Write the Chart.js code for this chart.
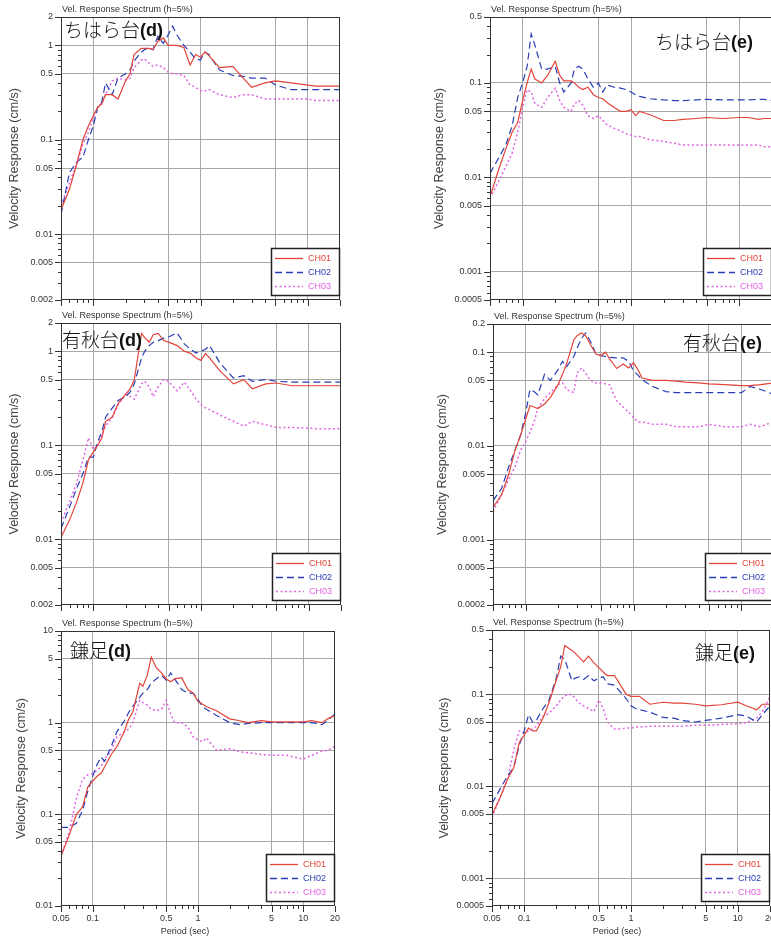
<!DOCTYPE html>
<html>
<head>
<meta charset="utf-8">
<script src="https://cdn.jsdelivr.net/npm/chart.js@4.4.1/dist/chart.umd.min.js"></script>
<style>
  html, body { margin: 0; padding: 0; background: #fff; overflow: hidden; }
  body { width: 771px; height: 937px; position: relative; }
  canvas { position: absolute; }
</style>
</head>
<body>
<canvas id="c0"></canvas>
<canvas id="c1"></canvas>
<canvas id="c2"></canvas>
<canvas id="c3"></canvas>
<canvas id="c4"></canvas>
<canvas id="c5"></canvas>
<script>
// Period grid (sec) shared by every curve
const periods = [0.05,0.06,0.07,0.08,0.09,0.1,0.11,0.12,0.13,0.15,0.17,0.2,0.22,0.24,0.28,0.3,0.33,0.36,0.4,0.45,0.5,0.55,0.6,0.7,0.8,0.9,1,1.1,1.2,1.5,2,2.5,3,4,5,7,10,12,15,17,20];

const channelNames = ['CH01', 'CH02', 'CH03'];
const xTickLabels = [0.05, 0.1, 0.5, 1, 5, 10, 20];
const xGridLines = [0.1, 0.5, 1, 5, 10];

// y tick labels per panel
const yLabelsChiharaD = [2, 1, 0.5, 0.1, 0.05, 0.01, 0.005, 0.002];
const yLabelsChiharaE = [0.5, 0.1, 0.05, 0.01, 0.005, 0.001, 0.0005];
const yLabelsAkiD = [2, 1, 0.5, 0.1, 0.05, 0.01, 0.005, 0.002];
const yLabelsAkiE = [0.2, 0.1, 0.05, 0.01, 0.005, 0.001, 0.0005, 0.0002];
const yLabelsKamaD = [10, 5, 1, 0.5, 0.1, 0.05, 0.01];
const yLabelsKamaE = [0.5, 0.1, 0.05, 0.01, 0.005, 0.001, 0.0005];

// ちはら台(d)
const chiharaD_ch1 = [0.018,0.03,0.055,0.1,0.14,0.18,0.22,0.24,0.3,0.3,0.27,0.42,0.5,0.8,0.93,0.93,0.93,0.9,1.1,1.2,1.0,1.0,1.0,0.95,0.62,0.8,0.75,0.85,0.78,0.58,0.6,0.45,0.36,0.4,0.42,0.4,0.38,0.37,0.37,0.37,0.37];
const chiharaD_ch2 = [0.016,0.045,0.058,0.065,0.1,0.14,0.22,0.25,0.4,0.3,0.45,0.5,0.55,0.68,0.85,0.9,0.95,0.9,1.25,1.05,1.3,1.6,1.3,1.0,0.85,0.72,0.7,0.85,0.8,0.55,0.48,0.47,0.45,0.45,0.38,0.34,0.34,0.34,0.34,0.34,0.34];
const chiharaD_ch3 = [0.02,0.035,0.055,0.09,0.12,0.17,0.22,0.25,0.3,0.42,0.45,0.43,0.45,0.58,0.7,0.72,0.65,0.6,0.62,0.58,0.52,0.5,0.5,0.48,0.38,0.36,0.33,0.33,0.34,0.3,0.28,0.3,0.3,0.27,0.27,0.27,0.27,0.26,0.26,0.26,0.26];

// ちはら台(e)
const chiharaE_ch1 = [0.0062,0.012,0.02,0.03,0.038,0.065,0.1,0.14,0.11,0.1,0.12,0.17,0.12,0.105,0.105,0.1,0.09,0.085,0.09,0.075,0.07,0.068,0.062,0.055,0.05,0.05,0.052,0.045,0.05,0.046,0.04,0.04,0.041,0.042,0.043,0.042,0.043,0.043,0.041,0.042,0.042];
const chiharaE_ch2 = [0.011,0.016,0.022,0.035,0.07,0.1,0.15,0.33,0.25,0.14,0.14,0.15,0.1,0.08,0.1,0.14,0.15,0.14,0.11,0.09,0.1,0.08,0.095,0.09,0.088,0.085,0.08,0.075,0.072,0.068,0.066,0.065,0.065,0.066,0.067,0.066,0.066,0.066,0.067,0.067,0.065];
const chiharaE_ch3 = [0.006,0.009,0.013,0.018,0.03,0.055,0.085,0.08,0.06,0.055,0.07,0.088,0.065,0.055,0.05,0.06,0.065,0.058,0.045,0.042,0.045,0.04,0.036,0.033,0.031,0.029,0.028,0.027,0.027,0.025,0.024,0.023,0.022,0.022,0.022,0.022,0.022,0.022,0.022,0.021,0.021];

// 有秋台(d)
const akiD_ch1 = [0.0105,0.016,0.025,0.04,0.07,0.085,0.1,0.12,0.18,0.2,0.28,0.35,0.4,0.5,1.55,1.4,1.25,1.5,1.55,1.3,1.25,1.2,1.15,1.0,0.95,0.85,0.8,0.95,0.85,0.62,0.45,0.5,0.4,0.45,0.46,0.43,0.43,0.43,0.43,0.43,0.43];
const akiD_ch2 = [0.013,0.022,0.035,0.05,0.075,0.075,0.11,0.14,0.2,0.25,0.3,0.33,0.37,0.45,0.85,1.0,1.15,1.25,1.3,1.38,1.42,1.5,1.57,1.2,1.05,0.96,1.0,1.05,1.15,0.75,0.52,0.55,0.48,0.5,0.48,0.47,0.47,0.47,0.47,0.47,0.47];
const akiD_ch3 = [0.015,0.025,0.04,0.07,0.12,0.09,0.1,0.13,0.16,0.2,0.27,0.35,0.33,0.31,0.45,0.48,0.42,0.33,0.42,0.5,0.48,0.42,0.38,0.47,0.38,0.31,0.27,0.25,0.24,0.21,0.18,0.16,0.18,0.165,0.155,0.155,0.152,0.15,0.15,0.15,0.15];

// 有秋台(e)
const akiE_ch1 = [0.0022,0.003,0.005,0.009,0.013,0.019,0.027,0.026,0.025,0.028,0.033,0.045,0.058,0.075,0.135,0.15,0.16,0.15,0.12,0.095,0.092,0.1,0.085,0.067,0.075,0.068,0.077,0.065,0.053,0.05,0.05,0.049,0.048,0.047,0.046,0.045,0.044,0.044,0.045,0.046,0.047];
const akiE_ch2 = [0.0026,0.0035,0.006,0.009,0.013,0.022,0.04,0.038,0.035,0.058,0.05,0.065,0.08,0.07,0.09,0.11,0.14,0.16,0.13,0.095,0.092,0.09,0.088,0.087,0.087,0.08,0.063,0.057,0.051,0.043,0.038,0.037,0.037,0.037,0.037,0.037,0.037,0.043,0.04,0.038,0.035];
const akiE_ch3 = [0.002,0.003,0.0044,0.006,0.009,0.011,0.014,0.018,0.025,0.032,0.037,0.045,0.047,0.04,0.037,0.06,0.068,0.06,0.05,0.047,0.047,0.046,0.045,0.03,0.026,0.023,0.02,0.018,0.018,0.017,0.017,0.016,0.016,0.016,0.017,0.016,0.016,0.017,0.016,0.017,0.018];

// 鎌足(d)
const kamaD_ch1 = [0.035,0.06,0.1,0.12,0.2,0.23,0.26,0.28,0.33,0.45,0.55,0.8,1.1,1.3,2.7,2.5,3.3,5.2,4.0,3.5,3.0,2.8,3.0,3.1,2.3,2.1,1.7,1.6,1.5,1.35,1.1,1.05,1.0,1.05,1.02,1.02,1.02,1.05,1.0,1.1,1.2];
const kamaD_ch2 = [0.072,0.072,0.08,0.11,0.18,0.26,0.35,0.42,0.38,0.55,0.8,1.05,1.3,1.5,1.9,2.1,2.3,2.7,3.0,3.3,2.9,3.5,3.0,2.3,2.1,2.1,1.8,1.5,1.4,1.2,1.0,0.95,0.98,1.0,1.0,1.0,1.0,1.0,0.95,1.05,1.25];
const kamaD_ch3 = [0.035,0.065,0.15,0.24,0.27,0.28,0.3,0.33,0.4,0.5,0.7,0.8,0.85,1.0,1.75,1.65,1.55,1.4,1.35,1.4,1.75,1.25,1.0,1.0,0.9,0.7,0.65,0.62,0.68,0.5,0.52,0.48,0.47,0.45,0.44,0.44,0.4,0.44,0.49,0.5,0.55];

// 鎌足(e)
const kamaE_ch1 = [0.0049,0.0077,0.012,0.016,0.03,0.036,0.043,0.04,0.04,0.055,0.08,0.143,0.2,0.34,0.3,0.28,0.25,0.225,0.26,0.22,0.195,0.175,0.16,0.16,0.125,0.1,0.095,0.095,0.095,0.078,0.082,0.08,0.08,0.078,0.075,0.077,0.082,0.075,0.068,0.078,0.078];
const kamaE_ch2 = [0.0065,0.0095,0.013,0.016,0.028,0.04,0.06,0.05,0.052,0.07,0.085,0.15,0.26,0.24,0.14,0.15,0.155,0.145,0.16,0.14,0.15,0.155,0.13,0.126,0.105,0.09,0.075,0.07,0.068,0.064,0.056,0.055,0.052,0.05,0.052,0.055,0.06,0.058,0.05,0.06,0.075];
const kamaE_ch3 = [0.0046,0.0077,0.012,0.025,0.04,0.038,0.04,0.042,0.045,0.058,0.062,0.075,0.087,0.097,0.1,0.09,0.08,0.075,0.07,0.065,0.087,0.07,0.05,0.042,0.042,0.043,0.043,0.044,0.044,0.045,0.045,0.045,0.045,0.046,0.046,0.047,0.048,0.049,0.055,0.065,0.095];

// styling
const channelColors = ['#e2443a', '#2a3db5', '#e264e4'];
const channelDashes = [[], [7, 4], [2, 2.5]];
const FONT = '"Liberation Sans", Arial, sans-serif';
const JP_FONT = '"Noto Sans CJK JP", sans-serif';
const Y_TITLE_SIZE = 12.5;

// panel layout: canvas box and plot rectangle in page pixels
const panels = [
  { id: 'c0', name: 'ちはら台', tag: '(d)', right: false, bottom: false,
    series: [chiharaD_ch1, chiharaD_ch2, chiharaD_ch3], yLabels: yLabelsChiharaD,
    box: { x: 0, y: 0, w: 345, h: 312 }, plot: { l: 61, t: 17, r: 340, b: 300 },
    yTitleX: 15, tagX: 64, tagY: 30 },
  { id: 'c1', name: 'ちはら台', tag: '(e)', right: true, bottom: false,
    series: [chiharaE_ch1, chiharaE_ch2, chiharaE_ch3], yLabels: yLabelsChiharaE,
    box: { x: 420, y: 0, w: 355, h: 312 }, plot: { l: 490, t: 17, r: 772, b: 300 },
    yTitleX: 440, tagX: 753, tagY: 42 },
  { id: 'c2', name: '有秋台', tag: '(d)', right: false, bottom: false,
    series: [akiD_ch1, akiD_ch2, akiD_ch3], yLabels: yLabelsAkiD,
    box: { x: 0, y: 306, w: 345, h: 312 }, plot: { l: 61, t: 323, r: 341, b: 605 },
    yTitleX: 15, tagX: 62, tagY: 340 },
  { id: 'c3', name: '有秋台', tag: '(e)', right: true, bottom: false,
    series: [akiE_ch1, akiE_ch2, akiE_ch3], yLabels: yLabelsAkiE,
    box: { x: 420, y: 306, w: 357, h: 312 }, plot: { l: 493, t: 324, r: 774, b: 605 },
    yTitleX: 443, tagX: 762, tagY: 343 },
  { id: 'c4', name: '鎌足', tag: '(d)', right: false, bottom: true,
    series: [kamaD_ch1, kamaD_ch2, kamaD_ch3], yLabels: yLabelsKamaD,
    box: { x: 0, y: 612, w: 345, h: 325 }, plot: { l: 61, t: 631, r: 335, b: 906 },
    yTitleX: 22, tagX: 70, tagY: 651, xTitleX: 185 },
  { id: 'c5', name: '鎌足', tag: '(e)', right: true, bottom: true,
    series: [kamaE_ch1, kamaE_ch2, kamaE_ch3], yLabels: yLabelsKamaE,
    box: { x: 420, y: 612, w: 355, h: 325 }, plot: { l: 492, t: 630, r: 770, b: 906 },
    yTitleX: 445, tagX: 755, tagY: 653, xTitleX: 617 }
];

function isIn(list, v) {
  return list.some(l => Math.abs(l - v) / l < 1e-6);
}

function fmt(v) {
  return String(Number(v.toPrecision(4)));
}

// 1..9 x 10^n ticks between min and max
function logTicks(min, max) {
  const out = [];
  for (let e = Math.floor(Math.log10(min)); e <= Math.ceil(Math.log10(max)); e++) {
    for (let m = 1; m <= 9; m++) {
      const v = Number((m * Math.pow(10, e)).toPrecision(6));
      if (v >= min * 0.9999 && v <= max * 1.0001) out.push(v);
    }
  }
  return out;
}

function makeDecor(p) {
  return {
    id: 'decor',
    afterDraw(chart) {
      const ctx = chart.ctx;
      const ca = chart.chartArea;
      const xs = chart.scales.x;
      const ys = chart.scales.y;
      ctx.save();

      // tick marks, long at labelled values
      ctx.strokeStyle = '#333';
      ctx.lineWidth = 1;
      ctx.beginPath();
      ys.ticks.forEach(t => {
        const y = Math.round(ys.getPixelForValue(t.value)) + 0.5;
        const len = isIn(p.yLabels, t.value) ? 6 : 3;
        ctx.moveTo(ca.left - len, y);
        ctx.lineTo(ca.left, y);
      });
      xs.ticks.forEach(t => {
        const x = Math.round(xs.getPixelForValue(t.value)) + 0.5;
        const len = isIn(xTickLabels, t.value) ? 6 : 3;
        ctx.moveTo(x, ca.bottom);
        ctx.lineTo(x, ca.bottom + len);
      });
      ctx.stroke();

      // plot frame
      ctx.strokeStyle = '#333';
      ctx.strokeRect(ca.left + 0.5, ca.top + 0.5, ca.right - ca.left - 1, ca.bottom - ca.top - 1);

      // small title above the plot
      ctx.fillStyle = '#333';
      ctx.font = '9px ' + FONT;
      ctx.textAlign = 'left';
      ctx.textBaseline = 'middle';
      ctx.fillText('Vel. Response Spectrum (h=5%)', ca.left + 1, ca.top - 7);

      // site label
      const ox = p.box.x, oy = p.box.y;
      const jpFont = '300 19px ' + JP_FONT;
      const tagFont = 'bold 18px ' + FONT;
      ctx.fillStyle = '#111';
      ctx.font = jpFont;
      const w1 = ctx.measureText(p.name).width;
      ctx.font = tagFont;
      const w2 = ctx.measureText(p.tag).width;
      const sx = (p.right ? p.tagX - w1 - w2 : p.tagX) - ox;
      const sy = p.tagY - oy;
      ctx.font = jpFont;
      ctx.fillText(p.name, sx, sy);
      ctx.font = tagFont;
      ctx.fillText(p.tag, sx + w1, sy + 1);

      // legend box
      const bw = 69, bh = 48;
      const bx = ca.right - bw;
      const by = ca.bottom - bh - 4;
      ctx.fillStyle = '#fff';
      ctx.fillRect(bx, by, bw, bh);
      ctx.strokeStyle = '#222';
      ctx.lineWidth = 1.5;
      ctx.strokeRect(bx + 0.5, by + 0.5, bw - 1, bh - 1);
      chart.data.datasets.forEach((ds, i) => {
        const ry = by + 10.5 + i * 14;
        ctx.strokeStyle = ds.borderColor;
        ctx.lineWidth = 1.3;
        ctx.setLineDash(channelDashes[i]);
        ctx.beginPath();
        ctx.moveTo(bx + 4, ry);
        ctx.lineTo(bx + 32, ry);
        ctx.stroke();
        ctx.setLineDash([]);
        ctx.fillStyle = ds.borderColor;
        ctx.font = '9px ' + FONT;
        ctx.textAlign = 'left';
        ctx.fillText(ds.label, bx + 37, ry);
      });

      // x axis title on the bottom row
      if (p.bottom) {
        ctx.fillStyle = '#333';
        ctx.font = '9px ' + FONT;
        ctx.textAlign = 'center';
        ctx.fillText('Period (sec)', p.xTitleX - ox, 932 - oy);
      }
      ctx.restore();
    }
  };
}

function makeChart(p) {
  const cv = document.getElementById(p.id);
  cv.width = p.box.w;
  cv.height = p.box.h;
  cv.style.left = p.box.x + 'px';
  cv.style.top = p.box.y + 'px';

  const yMin = Math.min(...p.yLabels);
  const yMax = Math.max(...p.yLabels);
  const yAxisW = p.plot.l - p.box.x;
  const xAxisH = p.box.y + p.box.h - p.plot.b;

  new Chart(cv, {
    type: 'line',
    data: {
      datasets: p.series.map((vals, i) => ({
        label: channelNames[i],
        data: periods.map((t, k) => ({ x: t, y: vals[k] })),
        borderColor: channelColors[i],
        borderWidth: i === 2 ? 1.5 : 1.2,
        borderDash: channelDashes[i],
        pointRadius: 0,
        tension: 0,
        fill: false
      }))
    },
    options: {
      responsive: false,
      animation: false,
      events: [],
      layout: {
        padding: { left: 0, top: p.plot.t - p.box.y, right: p.box.x + p.box.w - p.plot.r, bottom: 0 }
      },
      plugins: {
        legend: { display: false },
        tooltip: { enabled: false }
      },
      scales: {
        x: {
          type: 'logarithmic',
          min: 0.05,
          max: 20,
          afterBuildTicks: s => { s.ticks = logTicks(0.05, 20).map(v => ({ value: v })); },
          afterFit: s => { s.height = xAxisH; s.paddingLeft = 0; s.paddingRight = 0; },
          border: { display: false },
          grid: {
            drawTicks: false,
            lineWidth: 1,
            color: c => (c.tick && isIn(xGridLines, c.tick.value)) ? '#a8a8a8' : 'rgba(0,0,0,0)'
          },
          ticks: {
            autoSkip: false,
            maxRotation: 0,
            padding: 7,
            color: '#333',
            font: { size: 9, family: FONT },
            callback: v => (p.bottom && isIn(xTickLabels, v)) ? fmt(v) : ''
          }
        },
        y: {
          type: 'logarithmic',
          min: yMin,
          max: yMax,
          afterBuildTicks: s => { s.ticks = logTicks(yMin, yMax).map(v => ({ value: v })); },
          afterFit: s => { s.width = yAxisW; s.paddingTop = 0; s.paddingBottom = 0; },
          border: { display: false },
          grid: {
            drawTicks: false,
            lineWidth: 1,
            color: c => (c.tick && isIn(p.yLabels, c.tick.value) && c.tick.value !== yMin && c.tick.value !== yMax) ? '#a8a8a8' : 'rgba(0,0,0,0)'
          },
          title: {
            display: true,
            text: 'Velocity Response (cm/s)',
            color: '#444',
            font: { size: Y_TITLE_SIZE, family: FONT },
            padding: { top: p.yTitleX - p.box.x - Y_TITLE_SIZE * 0.6, bottom: 0 }
          },
          ticks: {
            autoSkip: false,
            padding: 8,
            color: '#333',
            font: { size: 9, family: FONT },
            callback: v => isIn(p.yLabels, v) ? fmt(v) : ''
          }
        }
      }
    },
    plugins: [makeDecor(p)]
  });
}

panels.forEach(makeChart);
</script>
</body>
</html>
